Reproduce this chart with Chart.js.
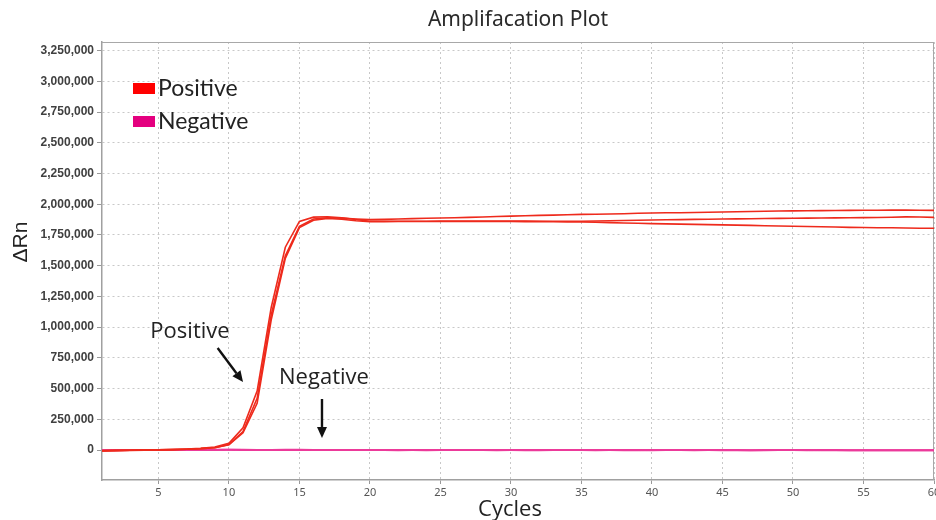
<!DOCTYPE html>
<html>
<head>
<meta charset="utf-8">
<script src="https://cdn.jsdelivr.net/npm/chart.js@4.4.1/dist/chart.umd.min.js"></script>
<style>
html,body{margin:0;padding:0;background:#fff;}
#wrap{width:936px;height:520px;}
</style>
</head>
<body>
<div id="wrap"><canvas id="c" width="936" height="520"></canvas></div>
<script>
const cycles = [1,2,3,4,5,6,7,8,9,10,11,12,13,14,15,16,17,18,19,20,21,22,23,24,25,26,27,28,29,30,31,32,33,34,35,36,37,38,39,40,41,42,43,44,45,46,47,48,49,50,51,52,53,54,55,56,57,58,59,60];

const positiveA = [-6000,-4000,-2000,0,1000,3000,6000,11000,19000,45000,150000,420000,1100000,1580000,1820000,1880000,1890000,1887000,1880000,1875000,
  1877000,1880000,1883000,1886000,1888000,1890000,1893000,1896000,1900000,1903000,1906000,1909000,1911000,1914000,1917000,1919000,1921000,1923000,1926000,1928000,
  1930000,1931000,1933000,1935000,1937000,1939000,1941000,1943000,1945000,1946000,1947000,1948000,1949000,1950000,1951000,1951000,1952000,1952000,1951000,1950000];

const positiveB = [-5000,-3000,-2000,0,2000,4000,8000,14000,24000,55000,180000,480000,1160000,1650000,1860000,1895000,1898000,1890000,1876000,1862000,
  1861000,1861000,1862000,1862000,1863000,1863000,1864000,1864000,1864000,1864000,1863000,1862000,1862000,1861000,1862000,1864000,1866000,1868000,1870000,1872000,
  1874000,1875000,1877000,1878000,1880000,1881000,1882000,1884000,1885000,1886000,1887000,1888000,1889000,1890000,1891000,1892000,1894000,1897000,1896000,1893000];

const positiveC = [-7000,-5000,-3000,-1000,1000,3000,6000,11000,19000,42000,140000,380000,1060000,1560000,1810000,1870000,1885000,1878000,1866000,1858000,
  1858000,1859000,1859000,1860000,1860000,1860000,1860000,1859000,1859000,1859000,1858000,1858000,1857000,1856000,1855000,1853000,1850000,1847000,1845000,1842000,
  1840000,1838000,1836000,1834000,1832000,1830000,1828000,1825000,1823000,1821000,1819000,1817000,1815000,1812000,1810000,1809000,1808000,1806000,1805000,1804000];

const negativeA = [-2000,-1000,0,0,1000,1000,0,1000,2000,2000,2000,1000,1000,2000,2000,1000,1000,0,0,1000,
  1000,0,0,-1000,0,0,1000,1000,0,0,-1000,-1000,0,0,1000,0,0,-1000,-1000,0,
  0,1000,0,0,-1000,-1000,-1000,0,0,1000,0,-1000,-1000,-2000,-1000,-1000,-2000,-2000,-1000,-2000];

const negativeB = [-1000,0,0,1000,1000,0,0,1000,1000,2000,1000,1000,0,1000,1000,0,0,1000,0,0,
  0,-1000,0,0,1000,0,0,0,-1000,0,0,0,1000,0,0,-1000,0,0,0,-1000,
  0,0,-1000,0,0,0,-1000,-1000,0,0,-1000,0,0,-1000,-1000,-2000,-1000,-1000,-2000,-1000];

const xTickValues = [5,10,15,20,25,30,35,40,45,50,55,60];
const yTickValues = [0,250000,500000,750000,1000000,1250000,1500000,1750000,2000000,2250000,2500000,2750000,3000000,3250000];

const titleText = 'Amplifacation Plot';
const xTitle = 'Cycles';
const yTitle = '\u0394Rn';
const legendLabels = ['Positive', 'Negative'];
const legendColors = ['#ff0000', '#e4007f'];
// annotations: label anchor and arrow ends, in (cycle, ΔRn) coordinates
const annotationTexts = ['Positive', 'Negative'];
const annotationLabelAt = [[7.24, 960000], [16.74, 586000]];
const annotationArrows = [[[9.2, 830000], [11.0, 553000]], [[16.6, 415000], [16.6, 98000]]];

const toXY = arr => arr.map((v, i) => ({x: cycles[i], y: v}));

const posColor = '#ee2a1c';
const negColor = '#ec3a9a';

const datasets = [
  {label: 'Positive', data: toXY(positiveA), borderColor: posColor, borderWidth: 1.6, order: 1},
  {label: 'Positive', data: toXY(positiveB), borderColor: posColor, borderWidth: 1.6, order: 1},
  {label: 'Positive', data: toXY(positiveC), borderColor: posColor, borderWidth: 1.6, order: 1},
  {label: 'Negative', data: toXY(negativeA), borderColor: negColor, borderWidth: 2, order: 2},
  {label: 'Negative', data: toXY(negativeB), borderColor: negColor, borderWidth: 2, order: 2}
];

function drawArrow(ctx, x1, y1, x2, y2) {
  const ang = Math.atan2(y2 - y1, x2 - x1);
  const headLen = 11, headW = 5;
  const bx = x2 - headLen * Math.cos(ang), by = y2 - headLen * Math.sin(ang);
  ctx.save();
  ctx.strokeStyle = '#111';
  ctx.fillStyle = '#111';
  ctx.lineWidth = 2.4;
  ctx.beginPath();
  ctx.moveTo(x1, y1);
  ctx.lineTo(bx, by);
  ctx.stroke();
  ctx.beginPath();
  ctx.moveTo(x2, y2);
  ctx.lineTo(bx + headW * Math.sin(ang), by - headW * Math.cos(ang));
  ctx.lineTo(bx - headW * Math.sin(ang), by + headW * Math.cos(ang));
  ctx.closePath();
  ctx.fill();
  ctx.restore();
}

const decorPlugin = {
  id: 'decor',
  beforeDatasetsDraw(chart) {
    const {ctx, chartArea: a} = chart;
    ctx.save();
    ctx.strokeStyle = '#a8a8a8';
    ctx.lineWidth = 1;
    ctx.beginPath();
    ctx.moveTo(a.left, a.top + 0.5);
    ctx.lineTo(a.right, a.top + 0.5);
    ctx.moveTo(a.right - 0.5, a.top);
    ctx.lineTo(a.right - 0.5, a.bottom);
    ctx.stroke();
    ctx.restore();
  },
  afterDraw(chart) {
    const {ctx, chartArea: a, scales} = chart;
    const xs = scales.x, ys = scales.y;
    ctx.save();
    // legend
    ctx.font = '23px Lato';
    ctx.textBaseline = 'middle';
    ctx.textAlign = 'left';
    legendLabels.forEach((lab, i) => {
      const cy = 89 + i * 33;
      ctx.fillStyle = legendColors[i];
      ctx.fillRect(a.left + 31, cy - 6, 22, 11);
      ctx.fillStyle = '#222';
      ctx.fillText(lab, a.left + 56, cy);
    });
    // annotations
    ctx.font = '22px "Open Sans"';
    ctx.textAlign = 'center';
    ctx.fillStyle = '#222';
    annotationTexts.forEach((t, i) => {
      const [cx, cv] = annotationLabelAt[i];
      ctx.fillText(t, xs.getPixelForValue(cx), ys.getPixelForValue(cv));
      const [[fx, fv], [tx, tv]] = annotationArrows[i];
      drawArrow(ctx, xs.getPixelForValue(fx), ys.getPixelForValue(fv), xs.getPixelForValue(tx), ys.getPixelForValue(tv));
    });
    // axis titles
    ctx.fillStyle = '#222';
    ctx.font = '22px "Open Sans"';
    ctx.textAlign = 'center';
    ctx.textBaseline = 'middle';
    ctx.fillText(xTitle, 510, 510);
    ctx.save();
    ctx.translate(21, 242);
    ctx.rotate(-Math.PI / 2);
    ctx.font = '21px "Liberation Sans"';
    ctx.fillText(yTitle, 0, 0);
    ctx.restore();
    ctx.restore();
  }
};

new Chart(document.getElementById('c'), {
  type: 'line',
  data: {datasets},
  options: {
    responsive: false,
    animation: false,
    events: [],
    layout: {padding: {left: 0, right: 2, top: 0, bottom: 0}},
    elements: {point: {radius: 0}, line: {tension: 0, fill: false}},
    plugins: {
      legend: {display: false},
      tooltip: {enabled: false},
      title: {
        display: true,
        fullSize: false,
        text: titleText,
        color: '#2a2a2a',
        font: {family: 'Noto Sans', size: 21, weight: 'normal', lineHeight: 1.2},
        padding: {top: 7.4, bottom: 9.4}
      }
    },
    scales: {
      x: {
        type: 'linear',
        min: 1,
        max: 60,
        afterBuildTicks: s => { s.ticks = xTickValues.map(v => ({value: v})); },
        afterFit: s => { s.height = 40; s.paddingLeft = 0; s.paddingRight = 0; },
        ticks: {color: '#555', font: {family: 'Noto Sans', size: 11}, padding: 2, maxRotation: 0, autoSkip: false},
        grid: {color: '#c8c8c8', tickLength: 4, tickColor: '#999', tickBorderDash: [], lineWidth: 1},
        border: {display: true, color: '#a0a0a0', width: 1.5, dash: [2, 3]}
      },
      y: {
        type: 'linear',
        min: -244000,
        max: 3320000,
        afterBuildTicks: s => { s.ticks = yTickValues.map(v => ({value: v})); },
        afterFit: s => { s.width = 102; s.paddingTop = 0; s.paddingBottom = 0; },
        ticks: {
          color: '#404040',
          font: {family: 'Liberation Sans', size: 12, weight: 'bold'},
          padding: 3,
          autoSkip: false,
          callback: v => v.toLocaleString('en-US')
        },
        grid: {color: '#c8c8c8', tickLength: 5, tickColor: '#999', tickBorderDash: [], lineWidth: 1},
        border: {display: true, color: '#a0a0a0', width: 1.5, dash: [2, 3]}
      }
    }
  },
  plugins: [decorPlugin]
});
</script>
</body>
</html>
